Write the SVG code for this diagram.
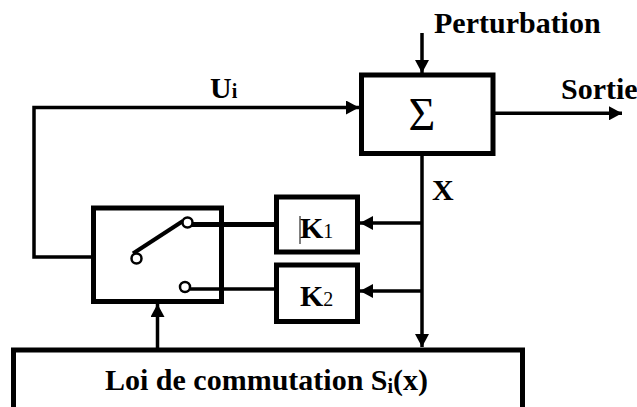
<svg xmlns="http://www.w3.org/2000/svg" width="637" height="407" viewBox="0 0 637 407">
<defs>
<style>
.box{fill:#fff;stroke:#000;stroke-width:5}
.ln{fill:none;stroke:#000;stroke-width:3.5}
.arr{marker-end:url(#ah)}
.ct{fill:#fff;stroke:#000;stroke-width:2.5}
.t{font-family:"Liberation Serif","Times New Roman",serif;font-weight:bold;font-size:30px;fill:#000}
.sub{font-size:20px}
.sig{font-family:"Liberation Serif","Times New Roman",serif;font-size:46px;fill:#000}
</style>
<marker id="ah" markerUnits="userSpaceOnUse" markerWidth="14" markerHeight="14" refX="13" refY="7" orient="auto">
<path d="M0,0 L13,7 L0,14 z" fill="#000"/>
</marker>
</defs>
<rect width="637" height="407" fill="#fff"/>
<g id="connectors">
<path class="ln arr" d="M422,33 V73"/>
<path class="ln arr" d="M131,257 H34 V107.5 H359"/>
<path class="ln arr" d="M495,113.3 H622"/>
<path class="ln arr" d="M422,156 V347"/>
<path class="ln arr" d="M422,223 H360"/>
<path class="ln arr" d="M422,291 H360"/>
<path class="ln arr" d="M157.5,348 V304"/>
</g>
<g id="sum">
<rect class="box" x="361.5" y="75" width="131.5" height="78.5"/>
<text class="sig" x="422" y="130" text-anchor="middle">Σ</text>
</g>
<g id="switch">
<rect class="box" x="93.5" y="208" width="128" height="93.5"/>
<line x1="192" y1="224.5" x2="274" y2="224.5" stroke="#000" stroke-width="5"/>
<line x1="190" y1="289" x2="274" y2="289" stroke="#000" stroke-width="3.5"/>
<line x1="133" y1="253.5" x2="183" y2="221" stroke="#000" stroke-width="4"/>
<circle class="ct" cx="136.5" cy="258.5" r="5"/>
<circle class="ct" cx="187.5" cy="222.5" r="5"/>
<circle class="ct" cx="185" cy="287" r="5"/>
</g>
<g id="k1">
<rect class="box" x="276.5" y="197" width="81" height="55"/>
<line x1="300" y1="216" x2="300" y2="244" stroke="#000" stroke-width="1"/>
<text class="t" x="300" y="238">K<tspan class="sub" font-weight="normal">1</tspan></text>
</g>
<g id="k2">
<rect class="box" x="276.5" y="265" width="81" height="56.5"/>
<text class="t" x="300" y="306">K<tspan class="sub" font-weight="normal">2</tspan></text>
</g>
<g id="loi">
<rect class="box" x="13.5" y="350" width="509" height="90"/>
<text class="t" x="105" y="390">Loi de commutation S<tspan class="sub" dy="3">i</tspan><tspan dy="-3">(x)</tspan></text>
</g>
<g id="labels">
<text class="t" x="434" y="33">Perturbation</text>
<text class="t" x="210" y="98">U<tspan class="sub">i</tspan></text>
<text class="t" x="561" y="99">Sortie</text>
<text class="t" x="432" y="200">X</text>
</g>
</svg>
